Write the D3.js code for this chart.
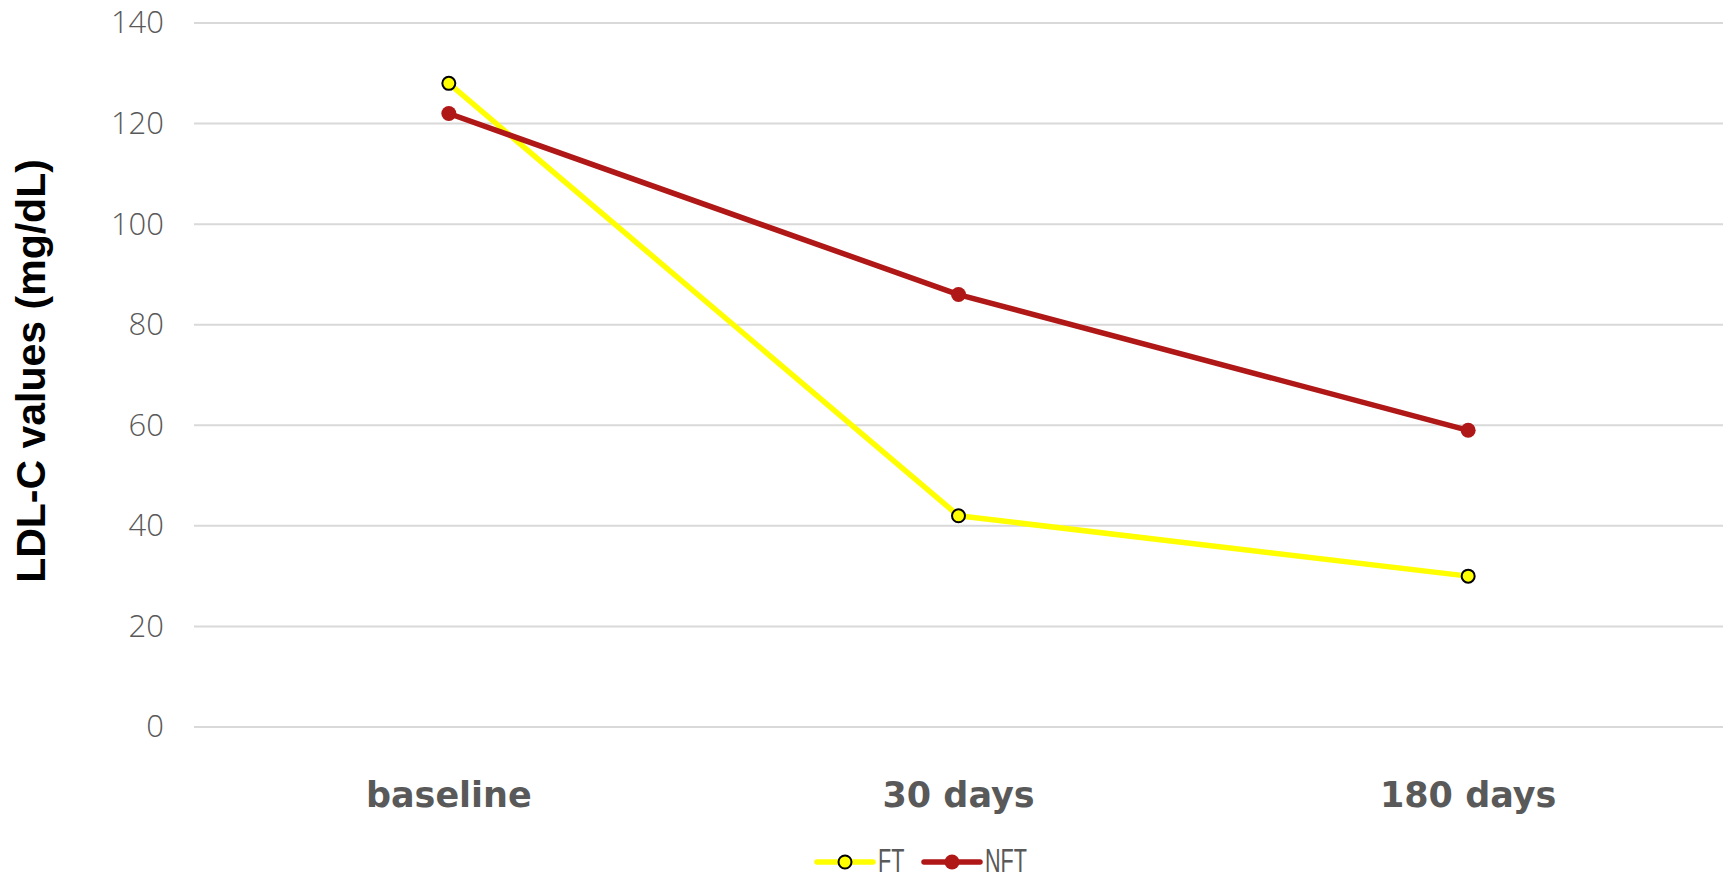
<!DOCTYPE html>
<html><head><meta charset="utf-8">
<script src="https://cdn.jsdelivr.net/npm/d3@7"></script>
<style>
html,body{margin:0;padding:0;background:#fff;}
svg{display:block;}
</style></head>
<body>
<svg id="chart" width="1730" height="878"></svg>
<script>
const categories = ["baseline", "30 days", "180 days"];
const seriesNames = ["FT", "NFT"];
const ftValues = [128, 42, 30];
const nftValues = [122, 86, 59];
const yTicks = [0, 20, 40, 60, 80, 100, 120, 140];
const yTitle = "LDL-C values (mg/dL)";

const W = 1730, H = 878;
const margin = {left: 194, right: 7, top: 23, bottom: 151};
const svg = d3.select("#chart");

const x = d3.scaleBand().domain(categories).range([margin.left, W - margin.right]).padding(0);
const y = d3.scaleLinear().domain([0, 140]).range([H - margin.bottom, margin.top]);

// gridlines
svg.append("g").selectAll("line").data(yTicks).join("line")
  .attr("x1", margin.left).attr("x2", W - margin.right)
  .attr("y1", d => y(d)).attr("y2", d => y(d))
  .attr("stroke", "#d9d9d9").attr("stroke-width", 2);

// y axis labels
const yAxis = d3.axisLeft(y).tickValues(yTicks).tickSize(0).tickPadding(30);
const gy = svg.append("g").attr("transform", `translate(${margin.left},0)`).call(yAxis);
gy.select(".domain").remove();
gy.selectAll("text").attr("font-family", "'Open Sans', 'Liberation Sans', sans-serif")
  .attr("font-weight", 300).attr("font-size", 31).attr("fill", "#595959");

// x axis labels
const xAxis = d3.axisBottom(x).tickSize(0).tickPadding(0);
const gx = svg.append("g").attr("transform", `translate(0,${y(0)})`).call(xAxis);
gx.select(".domain").remove();
gx.selectAll("text").attr("dy", null).attr("y", 80)
  .attr("font-family", "'Comic Sans MS', 'DejaVu Sans', sans-serif")
  .attr("font-weight", "bold").attr("font-size", 35).attr("fill", "#595959");

// y title
svg.append("text")
  .attr("transform", `translate(45,${(y(0) + y(140)) / 2 - 4}) rotate(-90)`)
  .attr("text-anchor", "middle")
  .attr("font-family", "'Liberation Sans', Arial, sans-serif")
  .attr("font-weight", "bold").attr("font-size", 41).attr("fill", "#000")
  .text(yTitle);

const series = [
  {name: seriesNames[0], values: ftValues, color: "#ffff00", fill: "#ffff00", stroke: "#000", r: 6.5, sw: 2},
  {name: seriesNames[1], values: nftValues, color: "#b01717", fill: "#b01717", stroke: "#b01717", r: 7.5, sw: 0}
];

const line = d3.line().x((d, i) => x(categories[i]) + x.bandwidth() / 2).y(d => y(d));

series.forEach(s => {
  const g = svg.append("g");
  g.append("path").datum(s.values).attr("d", line)
    .attr("fill", "none").attr("stroke", s.color).attr("stroke-width", 5.5)
    .attr("stroke-linejoin", "round");
  g.selectAll("circle").data(s.values).join("circle")
    .attr("cx", (d, i) => x(categories[i]) + x.bandwidth() / 2)
    .attr("cy", d => y(d)).attr("r", s.r)
    .attr("fill", s.fill).attr("stroke", s.stroke).attr("stroke-width", s.sw);
});

// legend
const legendY = 862;
const legendX = [817, 924];
series.forEach((s, i) => {
  const g = svg.append("g").attr("transform", `translate(${legendX[i]},${legendY})`);
  g.append("line").attr("x1", 0).attr("x2", 56).attr("y1", 0).attr("y2", 0)
    .attr("stroke", s.color).attr("stroke-width", 5.5).attr("stroke-linecap", "round");
  g.append("circle").attr("cx", 28).attr("cy", 0).attr("r", s.r)
    .attr("fill", s.fill).attr("stroke", s.stroke).attr("stroke-width", s.sw);
  g.append("text").attr("transform", "translate(61,10) scale(0.72,1.08)")
    .attr("font-family", "'Liberation Sans', Arial, sans-serif")
    .attr("font-size", 30).attr("fill", "#595959").text(s.name);
});
</script>
</body></html>
